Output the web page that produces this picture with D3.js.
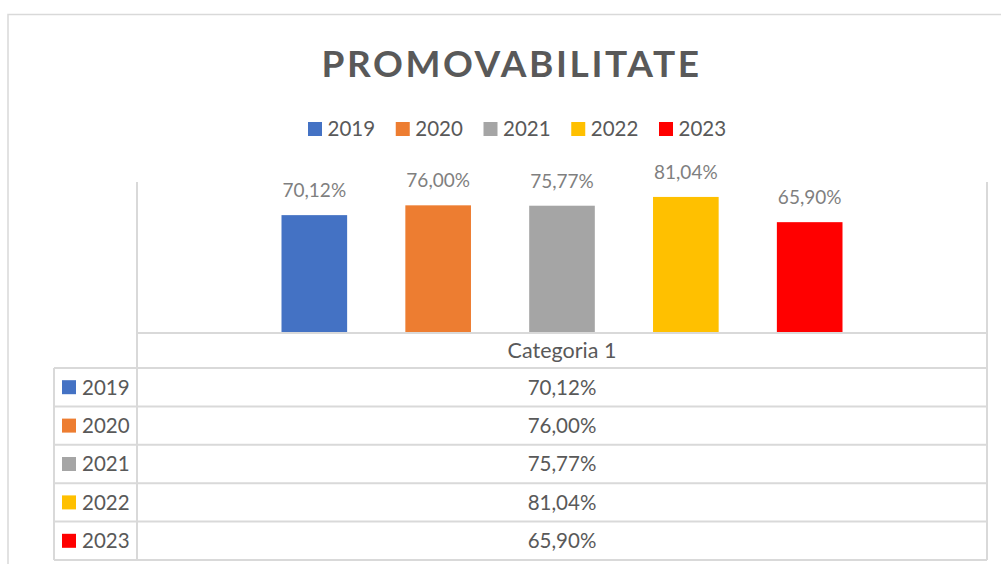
<!DOCTYPE html>
<html>
<head>
<meta charset="utf-8">
<script src="https://cdn.jsdelivr.net/npm/d3@7"></script>
<style>
  html, body { margin: 0; padding: 0; background: #fff; }
  svg { display: block; font-family: Lato, "Open Sans", sans-serif; }
</style>
</head>
<body>
<div id="chart"></div>
<script>
// data
const title = "PROMOVABILITATE";
const categories = ["Categoria 1"];
const years = ["2019", "2020", "2021", "2022", "2023"];
const values = [0.7012, 0.7600, 0.7577, 0.8104, 0.6590];
const colors = ["#4472c4", "#ed7d31", "#a5a5a5", "#ffc000", "#ff0000"];

const width = 1001, height = 564;
const plot = { left: 137, right: 987, top: 182, bottom: 332 };
const table = { left: 54, headTop: 333, rowsTop: 368, bottom: 560 };
const gridColor = "#d9d9d9";
const textColor = "#595959";

const ro = d3.formatLocale({ decimal: ",", thousands: ".", grouping: [3], currency: ["", " lei"] });
const pct = ro.format(".2%");

const svg = d3.select("#chart").append("svg")
    .attr("width", width)
    .attr("height", height);

// chart frame (runs off the right and bottom edge)
svg.append("rect")
    .attr("x", 8).attr("y", 14.5)
    .attr("width", 1030).attr("height", 580)
    .attr("fill", "#fff")
    .attr("stroke", gridColor)
    .attr("stroke-width", 1.5);

svg.append("text")
    .attr("x", 511.5)
    .attr("y", 76.5)
    .attr("text-anchor", "middle")
    .attr("fill", textColor)
    .attr("font-size", 37)
    .attr("font-weight", 700)
    .attr("letter-spacing", 2.6)
    .text(title);

// legend
const legend = svg.append("g").attr("class", "legend");
const legendX = d3.scalePoint().domain(years).range([308, 659]);
const legendItem = legend.selectAll("g")
    .data(years)
    .join("g")
    .attr("transform", d => `translate(${legendX(d)},122)`);
legendItem.append("rect")
    .attr("width", 14).attr("height", 14)
    .attr("fill", (d, i) => colors[i]);
legendItem.append("text")
    .attr("x", 19.5).attr("y", 14)
    .attr("fill", textColor)
    .attr("font-size", 20.5)
    .text(d => d);

// scales
const x0 = d3.scaleBand().domain(categories).range([plot.left, plot.right]);
const x1 = d3.scaleBand().domain(years)
    .range([x0.bandwidth() * 0.17, x0.bandwidth() * 0.83])
    .paddingInner(0.47);
const y = d3.scaleLinear().domain([0, 0.9]).range([plot.bottom, plot.top]);

const bars = svg.append("g")
    .selectAll("g")
    .data(categories)
    .join("g")
    .attr("transform", d => `translate(${x0(d)},0)`);

bars.selectAll("rect")
    .data(years.map((yr, i) => ({ yr, v: values[i], c: colors[i] })))
    .join("rect")
    .attr("x", d => x1(d.yr))
    .attr("y", d => y(d.v))
    .attr("width", x1.bandwidth())
    .attr("height", d => y(0) - y(d.v))
    .attr("fill", d => d.c);

bars.selectAll("text")
    .data(years.map((yr, i) => ({ yr, v: values[i] })))
    .join("text")
    .attr("x", d => x1(d.yr) + x1.bandwidth() / 2)
    .attr("y", d => y(d.v) - 18)
    .attr("text-anchor", "middle")
    .attr("fill", "#7f7f7f")
    .attr("font-size", 19)
    .text(d => pct(d.v));

// data table
const rowY = d3.scaleBand().domain(years).range([table.rowsTop, table.bottom]);
const grid = svg.append("g")
    .attr("stroke", gridColor)
    .attr("stroke-width", 2)
    .attr("fill", "none");

// vertical axis lines, they run into the table
grid.append("line").attr("x1", plot.left).attr("x2", plot.left).attr("y1", plot.top).attr("y2", table.bottom);
grid.append("line").attr("x1", plot.right).attr("x2", plot.right).attr("y1", plot.top).attr("y2", table.bottom);
grid.append("line").attr("x1", table.left).attr("x2", table.left).attr("y1", table.rowsTop).attr("y2", table.bottom);
// category axis / table header
grid.append("line").attr("x1", plot.left).attr("x2", plot.right).attr("y1", plot.bottom + 1).attr("y2", plot.bottom + 1);
grid.selectAll(".row")
    .data(years)
    .join("line")
    .attr("class", "row")
    .attr("x1", table.left).attr("x2", plot.right)
    .attr("y1", d => rowY(d)).attr("y2", d => rowY(d));
grid.append("line").attr("x1", table.left).attr("x2", plot.right).attr("y1", table.bottom).attr("y2", table.bottom);

svg.append("text")
    .attr("x", (plot.left + plot.right) / 2)
    .attr("y", 358)
    .attr("text-anchor", "middle")
    .attr("fill", textColor)
    .attr("font-size", 21.5)
    .text(categories[0]);

const rows = svg.append("g")
    .selectAll("g")
    .data(years.map((yr, i) => ({ yr, v: values[i], c: colors[i] })))
    .join("g")
    .attr("transform", d => `translate(0,${rowY(d.yr)})`);

rows.append("rect")
    .attr("x", 62).attr("y", rowY.bandwidth() / 2 - 7)
    .attr("width", 14).attr("height", 14)
    .attr("fill", d => d.c);
rows.append("text")
    .attr("x", 82)
    .attr("y", rowY.bandwidth() / 2 + 7.5)
    .attr("fill", textColor)
    .attr("font-size", 20.5)
    .text(d => d.yr);
rows.append("text")
    .attr("x", (plot.left + plot.right) / 2)
    .attr("y", rowY.bandwidth() / 2 + 7.5)
    .attr("text-anchor", "middle")
    .attr("fill", textColor)
    .attr("font-size", 20.5)
    .text(d => pct(d.v));
</script>
</body>
</html>
